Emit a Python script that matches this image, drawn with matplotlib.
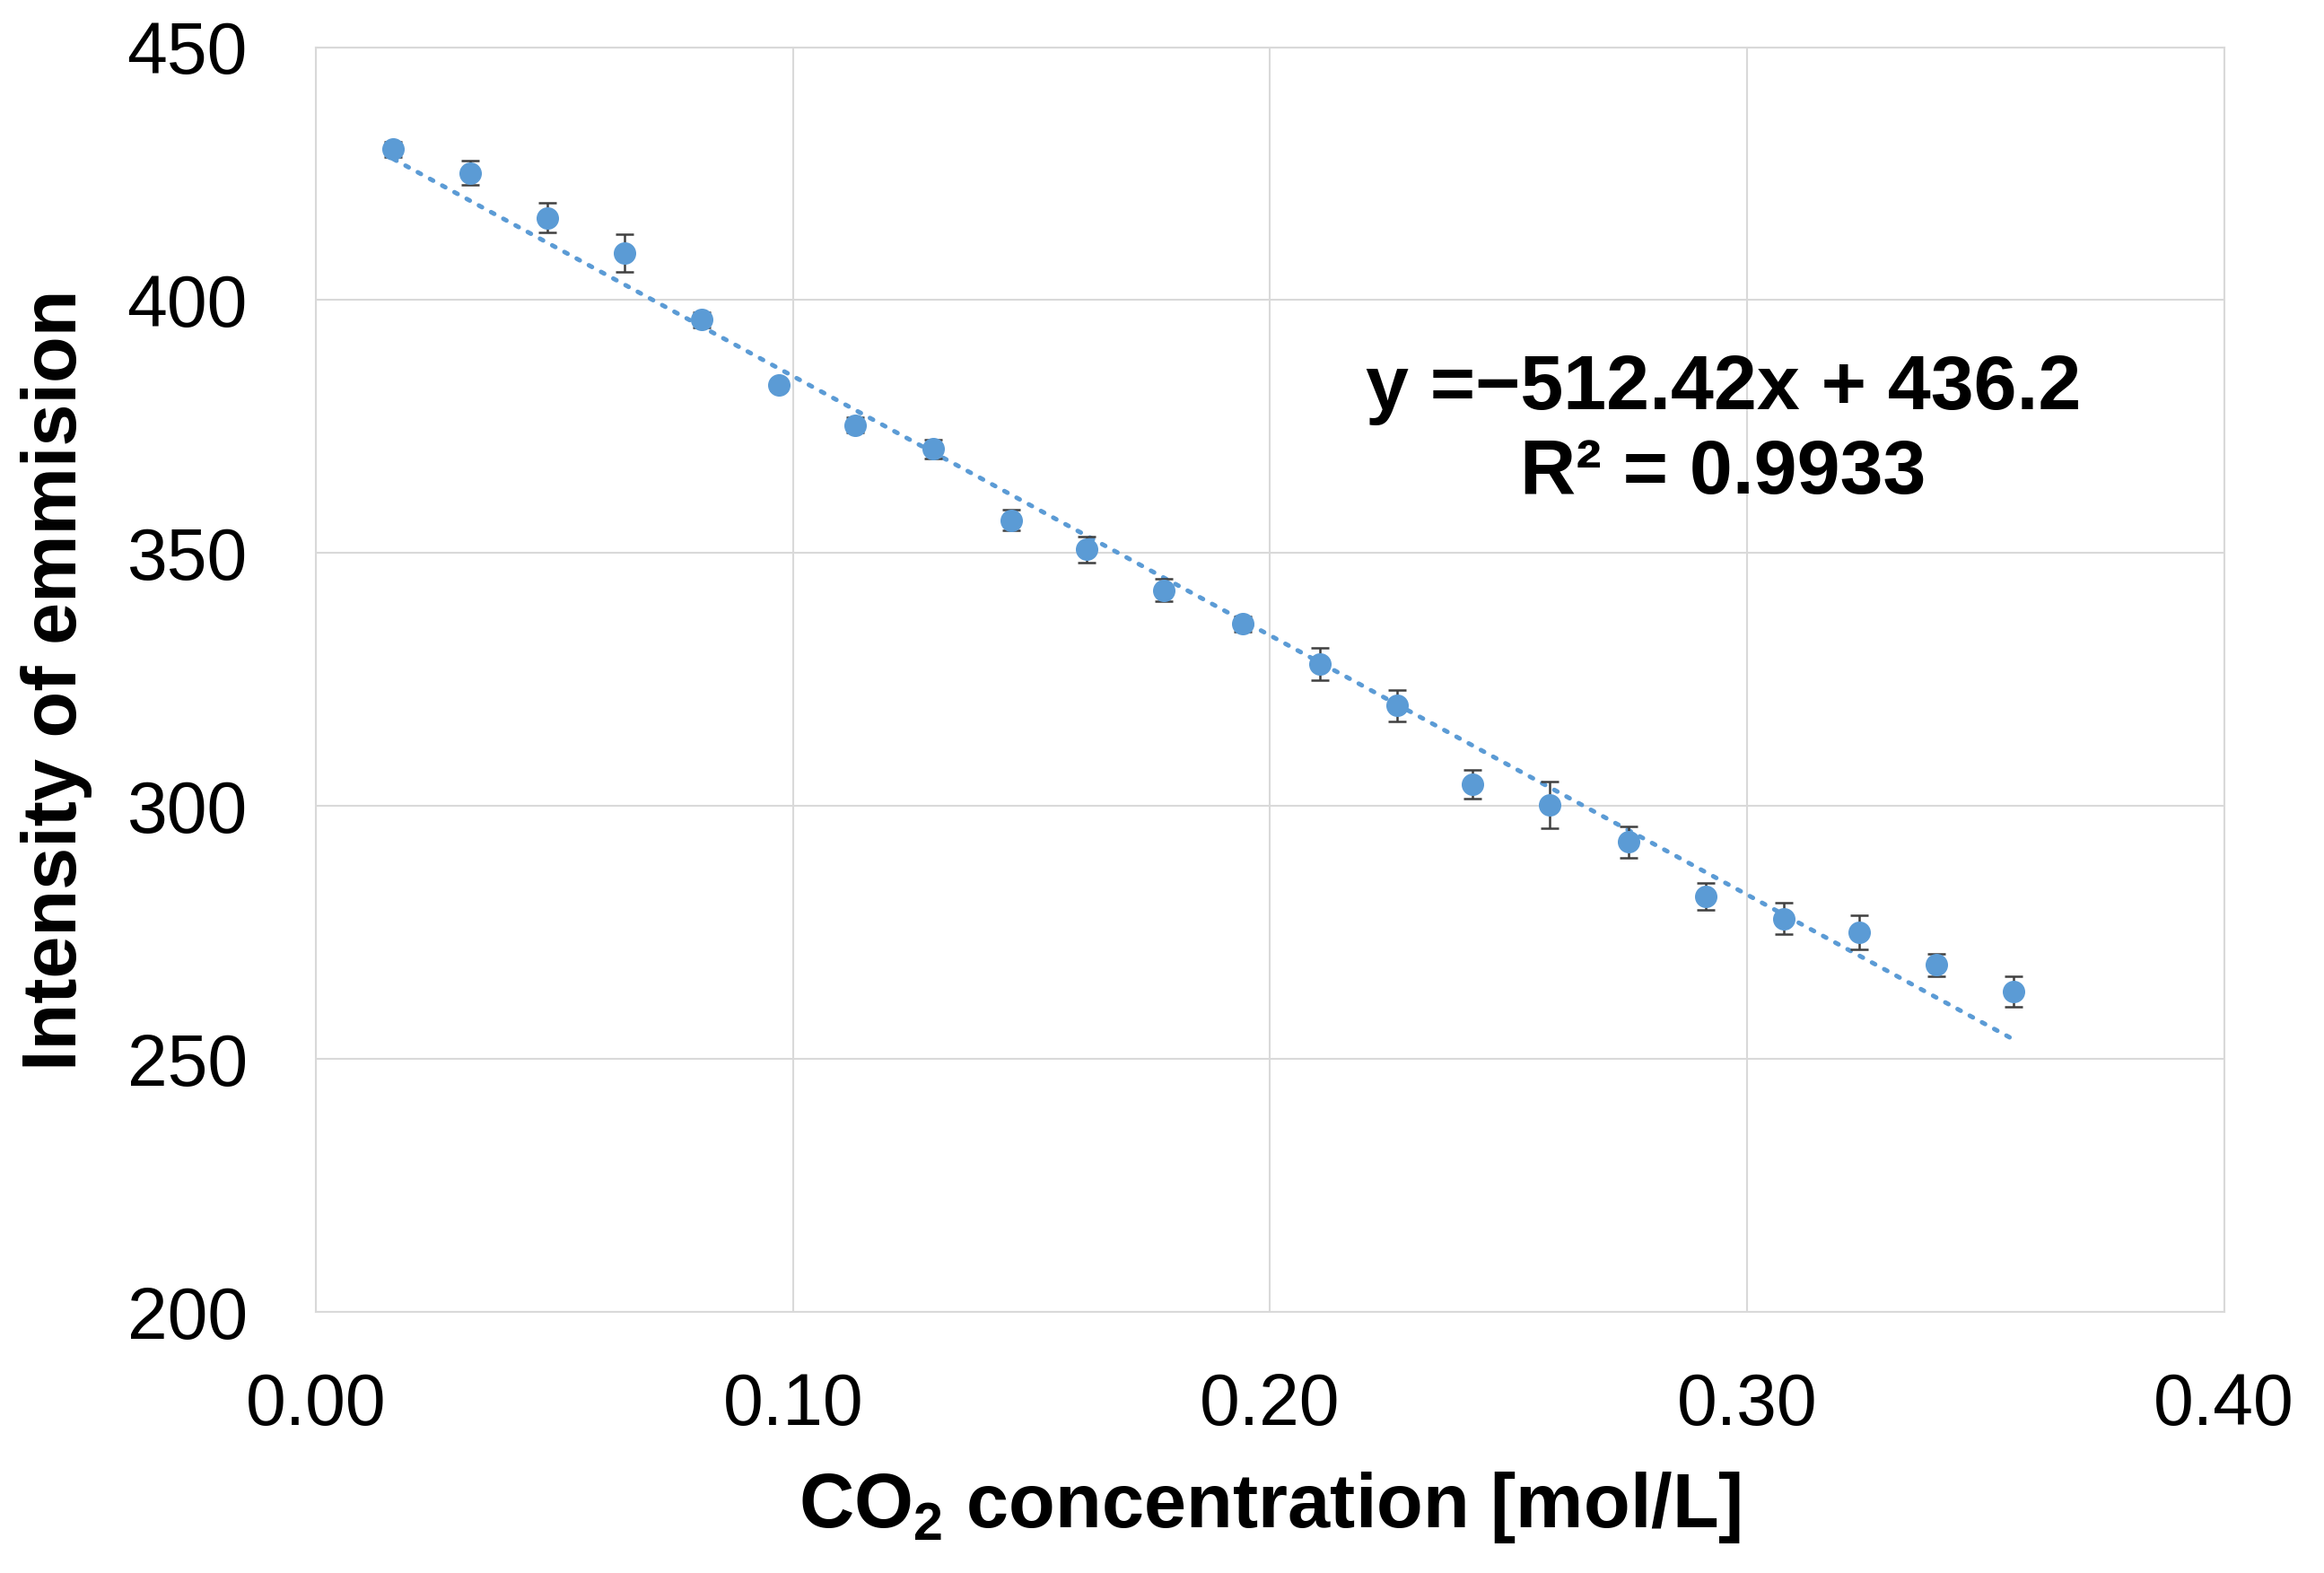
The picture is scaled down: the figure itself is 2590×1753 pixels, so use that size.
import numpy as np
import matplotlib
matplotlib.use("Agg")
import matplotlib.pyplot as plt

plt.rcParams['font.family'] = ['Liberation Sans', 'DejaVu Sans']
plt.rcParams['mathtext.fontset'] = 'custom'
plt.rcParams['mathtext.rm'] = 'Liberation Sans'
plt.rcParams['mathtext.bf'] = 'Liberation Sans:bold'

# CO2 concentration [mol/L]
conc = [0.0162, 0.0323, 0.0485, 0.0646, 0.0808, 0.0970, 0.1131, 0.1293,
        0.1458, 0.1616, 0.1778, 0.1943, 0.2104, 0.2266, 0.2424, 0.2586,
        0.2751, 0.2913, 0.3077, 0.3236, 0.3397, 0.3559]
# emission intensity
intensity = [429.8, 425.1, 416.3, 409.3, 396.1, 383.2, 375.3, 370.6,
             356.5, 350.7, 342.7, 336.0, 328.1, 319.9, 304.3, 300.2,
             292.9, 282.1, 277.7, 275.0, 268.6, 263.3]
# error (+/-)
err = [1.5, 2.4, 3.0, 3.8, 1.5, 1.0, 1.5, 1.9,
       2.0, 2.5, 2.3, 1.5, 3.2, 3.1, 2.9, 4.6,
       3.1, 2.6, 3.1, 3.4, 2.2, 3.0]

# linear trendline from the chart
slope = -512.42
intercept = 436.2
r2 = 0.9933

x_ticks = [0.0, 0.1, 0.2, 0.3, 0.4]
y_ticks = [200, 250, 300, 350, 400, 450]

blue = '#5B9BD5'
grid = '#D9D9D9'

fig = plt.figure(figsize=(25.9, 17.53), dpi=100)
ax = fig.add_axes([0.136, 0.166, 0.821, 0.804])

# trendline
xt = np.array([conc[0], conc[-1]])
ax.plot(xt, slope * xt + intercept, color=blue, lw=3.6,
        linestyle=(0, (0.8, 2.3)), dash_capstyle='round', zorder=2)

ax.errorbar(conc, intensity, yerr=err, fmt='o', color=blue, ms=17,
            ecolor='#404040', elinewidth=1.8, capsize=7, capthick=1.8,
            zorder=3)

sign = '\u2212' if slope < 0 else '+'
eq = f"y ={sign}{abs(slope):.2f}x + {intercept}\nR\u00b2 = {r2}"
ax.text(0.295, 374, eq, ha='center', va='center', fontsize=62,
        fontweight='bold', linespacing=1.22, zorder=4)

ax.set_xlim(0, 0.4)
ax.set_ylim(200, 450)
ax.set_xticks(x_ticks)
ax.set_yticks(y_ticks)
ax.set_xticklabels([f"{v:.2f}" for v in x_ticks])
ax.tick_params(axis='both', length=0, labelsize=58)
ax.tick_params(axis='x', pad=48)
ax.tick_params(axis='y', pad=55)
ax.grid(True, color=grid, lw=1.5)
ax.set_axisbelow(True)
for s in ax.spines.values():
    s.set_color(grid)
    s.set_linewidth(1.5)

ax.set_xlabel(r"CO$_\mathbf{2}$ concentration [mol/L]", fontsize=61,
              fontweight='bold', va='center')
ax.set_ylabel("Intensity of emmision", fontsize=61, fontweight='bold',
              va='center')
ax.xaxis.set_label_coords(0.5, -0.155)
ax.yaxis.set_label_coords(-0.136, 0.5)

fig.savefig("out.png", dpi=100)
